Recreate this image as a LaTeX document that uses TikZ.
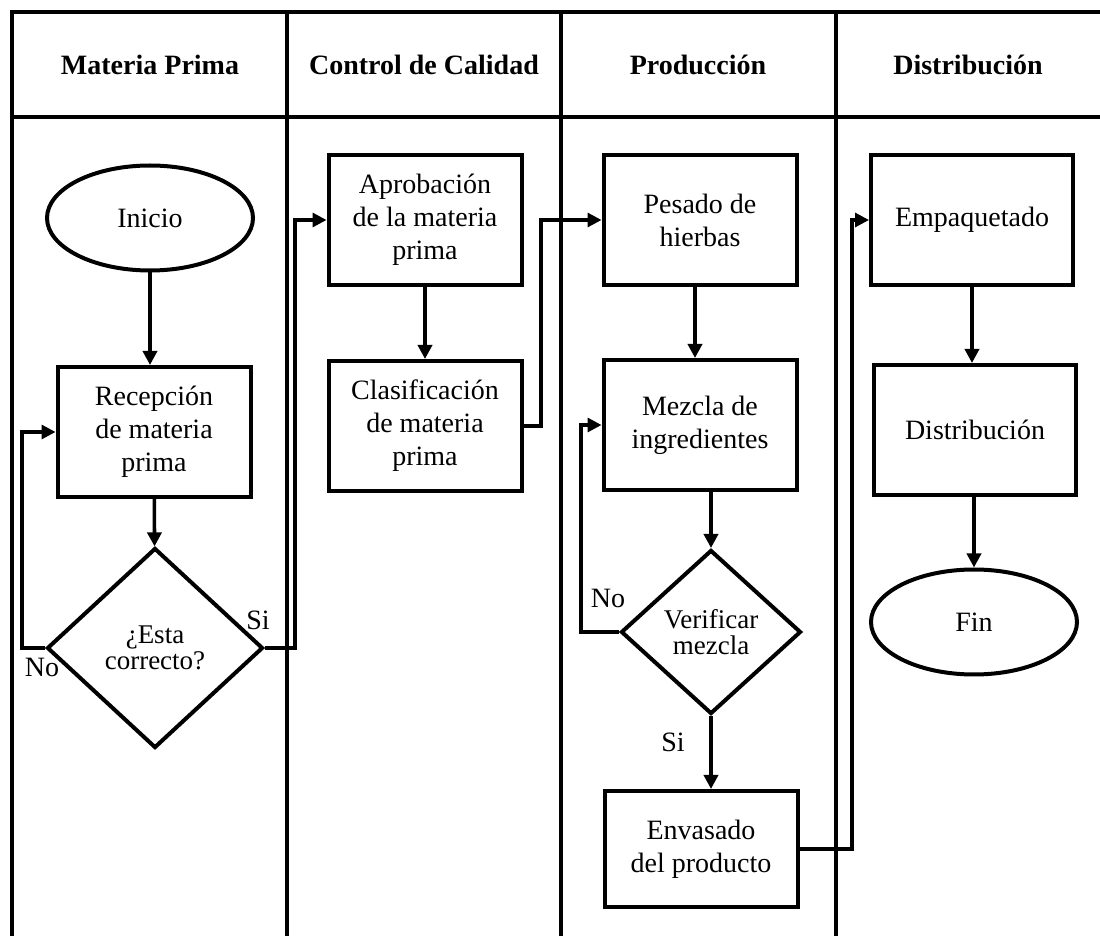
\documentclass[tikz,border=0pt]{standalone}
\usepackage{fontspec}
\setmainfont{Liberation Serif}
\usepackage{tikz}
\usetikzlibrary{shapes.geometric,arrows.meta}

\begin{document}
\begin{tikzpicture}[
	x=0.5pt,y=-0.5pt,
	lane/.style={draw=black,line width=2.4pt},
	head/.style={font=\fontsize{14}{16.5}\selectfont\bfseries,inner sep=0pt},
	proc/.style={rectangle,draw=black,line width=2pt,minimum width=96.5pt,minimum height=65pt,align=center,font=\fontsize{14}{16.5}\selectfont,inner sep=2pt},
	term/.style={ellipse,draw=black,line width=2pt,minimum width=103pt,minimum height=52.5pt,font=\fontsize{14}{16.5}\selectfont,inner sep=2pt},
	decis/.style={diamond,draw=black,line width=2pt,align=center,font=\fontsize{13.5}{13}\selectfont,inner sep=0pt},
	lbl/.style={font=\fontsize{14}{16.5}\selectfont,inner sep=0pt},
	arr/.style={-{Triangle[length=7pt,width=7pt]},draw=black,line width=1.8pt},
	elbow/.style={arr,line width=1.6pt}]
	\useasboundingbox (0,0) rectangle (1100,936);
	% swimlanes
	\draw[lane] (12,936) -- (12,12) -- (1100,12);
	\draw[lane] (12,117) -- (1100,117);
	\foreach \x in {287,561,836} \draw[lane] (\x,12) -- (\x,936);
	\node[head] (hmp) at (150,65) {Materia Prima};
	\node[head] (hcc) at (424,65) {Control de Calidad};
	\node[head] (hpr) at (698,65) {Producción};
	\node[head] (hdi) at (968,65) {Distribución};
	% materia prima
	\node[term] (inicio) at (150,218) {Inicio};
	\node[proc] (recep) at (154,432) {Recepción\\de materia\\prima};
	\node[decis,minimum width=108pt,minimum height=100pt] (correcto) at (155,648) {¿Esta\\correcto?};
	% control de calidad
	\node[proc] (aprob) at (425,220) {Aprobación\\de la materia\\prima};
	\node[proc] (clasif) at (425,426) {Clasificación\\de materia\\prima};
	% produccion
	\node[proc] (pesado) at (700,220) {Pesado de\\hierbas};
	\node[proc] (mezcla) at (700,425) {Mezcla de\\ingredientes};
	\node[decis,minimum width=90pt,minimum height=82pt] (verif) at (711,632) {Verificar\\mezcla};
	\node[proc,minimum height=58pt] (envasado) at (701,849) {Envasado\\del producto};
	% distribucion
	\node[proc,minimum width=101pt] (empaq) at (972,220) {Empaquetado};
	\node[proc,minimum width=101pt] (distrib) at (975,430) {Distribución};
	\node[term] (fin) at (974,622) {Fin};
	% bends
	\coordinate (noa) at (22,0);
	\coordinate (sia) at (295,0);
	\coordinate (cpa) at (541,0);
	\coordinate (nob) at (581,0);
	\coordinate (eea) at (852,0);
	% connectors
	\draw[arr] (inicio.south) -- (inicio.south |- recep.north);
	\draw[arr] (recep) -- (correcto);
	\draw[elbow] (correcto.west) -- (correcto.west -| noa) |- (recep.west);
	\draw[elbow] (correcto.east) -- (correcto.east -| sia) |- (aprob.west);
	\draw[arr] (aprob) -- (clasif);
	\draw[elbow] (clasif.east) -- (clasif.east -| cpa) |- (pesado.west);
	\draw[arr] (pesado.south -| 695,0) -- (mezcla.north -| 695,0);
	\draw[arr] (mezcla.south -| verif.north) -- (verif.north);
	\draw[elbow] (verif.west) -- (verif.west -| nob) |- (mezcla.west);
	\draw[arr] (verif.south) -- (verif.south |- envasado.north);
	\draw[elbow] (envasado.east) -- (envasado.east -| eea) |- (empaq.west);
	\draw[arr] (empaq.south) -- (empaq.south |- distrib.north);
	\draw[arr] (distrib.south -| fin.north) -- (fin.north);
	\node[lbl] (siuno) at (258,620) {Si};
	\node[lbl] (nouno) at (42,667) {No};
	\node[lbl] (nodos) at (608,598) {No};
	\node[lbl] (sidos) at (673,742) {Si};
\end{tikzpicture}
\end{document}
